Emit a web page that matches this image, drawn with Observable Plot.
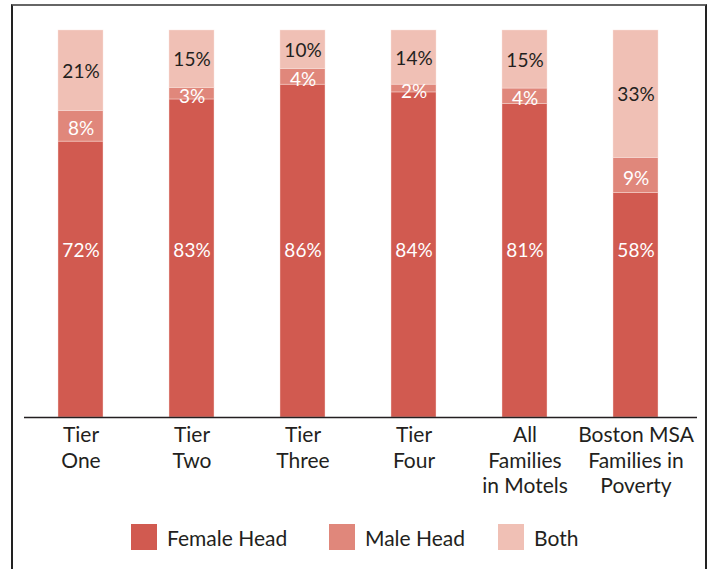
<!DOCTYPE html>
<html>
<head>
<meta charset="utf-8">
<script src="https://cdn.jsdelivr.net/npm/d3@7"></script>
<script src="https://cdn.jsdelivr.net/npm/@observablehq/plot@0.6"></script>
<style>
  html, body { margin: 0; padding: 0; background: #fff; }
  #wrap { position: relative; width: 711px; height: 569px; overflow: hidden; font-family: Lato, "Open Sans", sans-serif; }
  #frame { position: absolute; left: 11px; top: 4px; width: 692px; height: 600px; border-left: 2px solid #222; border-right: 2px solid #222; border-top: 2px solid #666; }
  #chart { position: absolute; left: 0; top: 0; }
  #legend { position: absolute; left: 0; top: 524px; width: 711px; height: 26px; }
  .item { position: absolute; top: 0; display: flex; align-items: center; height: 26px; }
  .sw { width: 26px; height: 26px; margin-right: 10px; }
  .lab { font-size: 21px; color: #231f20; }
</style>
</head>
<body>
<div id="wrap">
  <div id="frame"></div>
  <div id="chart"></div>
  <div id="legend"></div>
</div>
<script>
const categories = ["Tier\nOne", "Tier\nTwo", "Tier\nThree", "Tier\nFour", "All\nFamilies\nin Motels", "Boston MSA\nFamilies in\nPoverty"];
const female = [72, 83, 86, 84, 81, 58];
const male = [8, 3, 4, 2, 4, 9];
const both = [21, 15, 10, 14, 15, 33];
const seriesNames = ["Female Head", "Male Head", "Both"];
const seriesColors = ["#d15a50", "#e0877b", "#f0c0b5"];
const labelColors = ["#ffffff", "#ffffff", "#231f20"];

const seriesValues = [female, male, both];
const rows = [];
categories.forEach((c, i) => {
  seriesNames.forEach((s, j) => rows.push({cat: c, series: s, value: seriesValues[j][i], order: j}));
});

// label positions derived from the data (normalized stack)
const labels = [];
categories.forEach((c, i) => {
  const total = female[i] + male[i] + both[i];
  let cum = 0;
  seriesNames.forEach((s, j) => {
    const v = seriesValues[j][i];
    const lo = cum / total, hi = (cum + v) / total;
    cum += v;
    const y = j === 0 ? 0.43 : (lo + hi) / 2;
    labels.push({cat: c, series: s, y, text: v + "%", fill: labelColors[j], kind: j});
  });
});

const chart = Plot.plot({
  width: 711,
  height: 500,
  marginTop: 30,
  marginBottom: 83,
  marginLeft: 24,
  marginRight: 14,
  style: {fontFamily: "Lato, 'Open Sans', sans-serif", background: "transparent"},
  x: {domain: categories, paddingInner: 0.595, paddingOuter: 0.3, insetRight: 6, label: null},
  y: {domain: [0, 1], axis: null},
  color: {domain: seriesNames, range: seriesColors},
  marks: [
    Plot.barY(rows, Plot.stackY({
      x: "cat", y: "value", fill: "series", order: "order", offset: "normalize",
      stroke: "#fbe3dd", strokeWidth: 0.6, strokeOpacity: 0.7
    })),
    Plot.text(labels.filter(d => d.kind === 0), {x: "cat", y: "y", text: "text", fill: "fill", fontSize: 19}),
    Plot.text(labels.filter(d => d.kind === 1), {x: "cat", y: "y", text: "text", fill: "fill", fontSize: 19, dy: 3}),
    Plot.text(labels.filter(d => d.kind === 2), {x: "cat", y: "y", text: "text", fill: "fill", fontSize: 19, dy: 1}),
    Plot.ruleY([0], {stroke: "#231f20", strokeWidth: 1.6}),
    Plot.axisX({tickSize: 0, tickPadding: 7, fontSize: 21, lineHeight: 1.2, fill: "#231f20", label: null})
  ]
});
document.getElementById("chart").appendChild(chart);

const legend = document.getElementById("legend");
const lefts = [131, 329, 498];
seriesNames.forEach((s, j) => {
  const item = document.createElement("div");
  item.className = "item";
  item.style.left = lefts[j] + "px";
  const sw = document.createElement("div");
  sw.className = "sw";
  sw.style.background = seriesColors[j];
  const lab = document.createElement("span");
  lab.className = "lab";
  lab.textContent = s;
  item.appendChild(sw);
  item.appendChild(lab);
  legend.appendChild(item);
});
</script>
</body>
</html>
